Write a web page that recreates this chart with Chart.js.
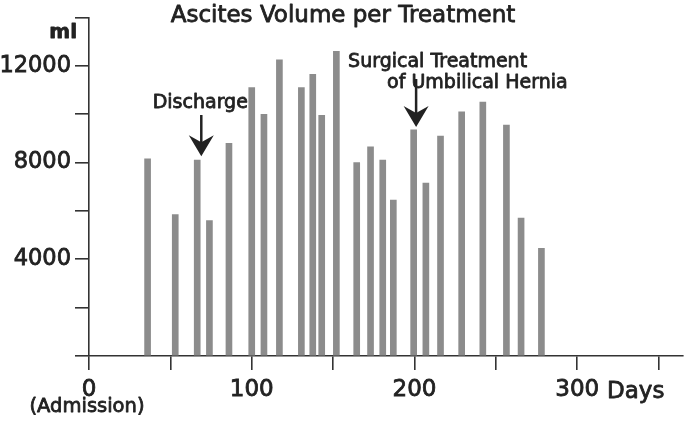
<!DOCTYPE html>
<html lang="en">
<head>
  <meta charset="UTF-8" />
  <title>Ascites Volume per Treatment</title>
  <script src="https://cdn.jsdelivr.net/npm/chart.js"></script>
  <style>
    body {
      margin: 0;
      background: white;
      overflow: hidden;
    }
    canvas {
      display: block;
    }
  </style>
</head>
<body>

<canvas id="ascitesChart" width="685" height="421"></canvas>

<script>
  // day of each paracentesis (days after admission) and volume drained (ml)
  const days = [36, 53, 66.5, 74, 86, 100, 107.5, 117, 130.5, 137.5, 143, 152,
                164.5, 173, 180.5, 187, 199.5, 207, 216, 229, 242, 256.5, 265.5, 278];
  const volumes = [8150, 5850, 8100, 5600, 8800, 11100, 10000, 12250, 11100, 11650, 9950, 12600,
                   8000, 8650, 8100, 6450, 9350, 7150, 9100, 10100, 10500, 9550, 5700, 4450];

  const xTicks = [0, 50, 100, 150, 200, 250, 300, 350];
  const xTickLabels = [0, 100, 200, 300];
  const yTicks = [0, 2000, 4000, 6000, 8000, 10000, 12000, 14000];
  const yTickLabels = [4000, 8000, 12000];

  // arrows: day the arrow stands on, bar it points at, text lines
  const noteDays = [69, 201];
  const noteBars = [2, 16];
  const noteTexts = [["Discharge"], ["Surgical Treatment", "of Umbilical Hernia"]];

  const FONT = '"DejaVu Sans", sans-serif';
  const INK = '#222';
  const HEAVY = 0.8; // extra stroke so the text looks as heavy as the original

  function label(ctx, text, x, y) {
    ctx.fillText(text, x, y);
    ctx.strokeText(text, x, y);
  }

  function drawArrow(ctx, xp, top, tip) {
    ctx.lineWidth = 2.5;
    ctx.beginPath();
    ctx.moveTo(xp, top);
    ctx.lineTo(xp, tip - 12);
    ctx.stroke();
    ctx.beginPath();
    ctx.moveTo(xp, tip);
    ctx.lineTo(xp - 12.5, tip - 21);
    ctx.lineTo(xp, tip - 14);
    ctx.lineTo(xp + 12.5, tip - 21);
    ctx.closePath();
    ctx.fill();
  }

  const decorations = {
    id: 'decorations',
    afterDraw(chart) {
      const ctx = chart.ctx;
      const x = chart.scales.x;
      const y = chart.scales.y;
      ctx.save();
      ctx.fillStyle = INK;
      ctx.strokeStyle = INK;
      ctx.lineWidth = HEAVY;
      ctx.lineJoin = 'round';

      ctx.font = '23px ' + FONT;
      ctx.textAlign = 'center';
      label(ctx, 'Ascites Volume per Treatment', 343, 22);

      ctx.font = 'bold 20px ' + FONT;
      ctx.textAlign = 'right';
      label(ctx, 'ml', 77, 38);

      ctx.font = '23px ' + FONT;
      ctx.textAlign = 'left';
      label(ctx, 'Days', 607, 398);

      ctx.font = '19.5px ' + FONT;
      ctx.textAlign = 'center';
      label(ctx, '(Admission)', x.getPixelForValue(0) - 2, 412);

      // Discharge
      let ax = x.getPixelForValue(noteDays[0]);
      let tip = y.getPixelForValue(volumes[noteBars[0]]) - 4;
      ctx.font = '19px ' + FONT;
      ctx.textAlign = 'center';
      label(ctx, noteTexts[0][0], ax - 1, 108);
      drawArrow(ctx, ax, 115, tip);

      // Surgical treatment
      ax = x.getPixelForValue(noteDays[1]);
      tip = y.getPixelForValue(volumes[noteBars[1]]) - 3;
      ctx.lineWidth = HEAVY;
      ctx.textAlign = 'left';
      label(ctx, noteTexts[1][0], ax - 68, 67);
      label(ctx, noteTexts[1][1], ax - 29, 88);
      drawArrow(ctx, ax, 79, tip);

      ctx.restore();
    }
  };

  const ctx = document.getElementById('ascitesChart').getContext('2d');
  new Chart(ctx, {
    type: 'bar',
    data: {
      datasets: [{
        data: days.map((d, i) => ({ x: d, y: volumes[i] })),
        backgroundColor: '#8c8c8c',
        barThickness: 6
      }]
    },
    options: {
      responsive: false,
      animation: false,
      layout: { padding: { top: 10, right: 2, left: 0, bottom: 0 } },
      plugins: {
        legend: { display: false },
        tooltip: { enabled: false }
      },
      scales: {
        x: {
          type: 'linear',
          min: 0,
          max: 365,
          offset: false,
          afterFit: s => { s.height = 65; },
          afterBuildTicks: s => { s.ticks = xTicks.map(v => ({ value: v })); },
          ticks: {
            autoSkip: false,
            maxRotation: 0,
            padding: 6,
            color: INK,
            textStrokeColor: INK,
            textStrokeWidth: HEAVY,
            font: { family: FONT, size: 23 },
            callback: v => xTickLabels.includes(v) ? String(v) : ''
          },
          grid: { offset: false, drawOnChartArea: false, tickLength: 14, color: '#333', lineWidth: 1.6 },
          border: { color: '#333', width: 1.6 }
        },
        y: {
          min: 0,
          max: 14000,
          afterFit: s => { s.width = 89; },
          afterBuildTicks: s => { s.ticks = yTicks.map(v => ({ value: v })); },
          ticks: {
            autoSkip: false,
            padding: 4,
            color: INK,
            textStrokeColor: INK,
            textStrokeWidth: HEAVY,
            font: { family: FONT, size: 22.5 },
            callback: v => yTickLabels.includes(v) ? String(v) : ''
          },
          grid: { drawOnChartArea: false, tickLength: 14, color: '#333', lineWidth: 1.6 },
          border: { color: '#333', width: 1.6 }
        }
      }
    },
    plugins: [decorations]
  });
</script>
</body>
</html>
